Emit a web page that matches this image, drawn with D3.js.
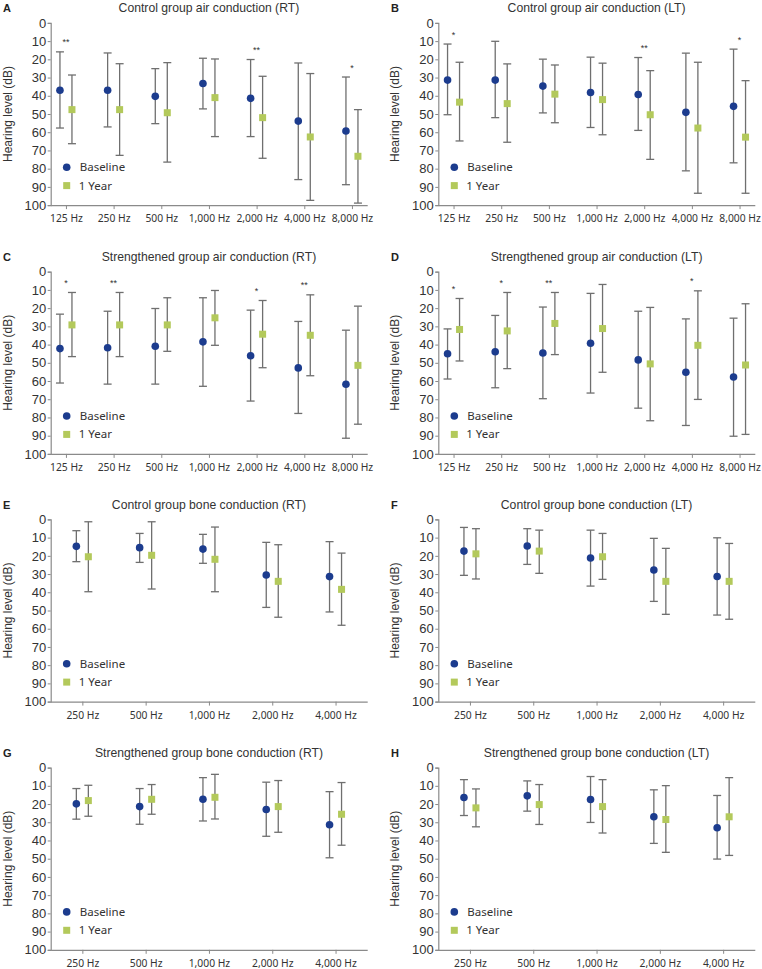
<!DOCTYPE html>
<html>
<head>
<meta charset="utf-8">
<script src="https://cdn.jsdelivr.net/npm/d3@7"></script>
<style>
  html, body { margin: 0; padding: 0; background: #fff; }
  svg { display: block; }
</style>
</head>
<body>
<div id="chart"></div>
<script>
// ---------- DATA ----------
const airFreqs = ["125 Hz", "250 Hz", "500 Hz", "1,000 Hz", "2,000 Hz", "4,000 Hz", "8,000 Hz"];
const boneFreqs = ["250 Hz", "500 Hz", "1,000 Hz", "2,000 Hz", "4,000 Hz"];
const yTickValues = [0, 10, 20, 30, 40, 50, 60, 70, 80, 90, 100];
const seriesNames = ["Baseline", "1 Year"];

// A: Control group air conduction (RT)
const A_baseMean = [37.0, 37.0, 40.3, 33.3, 41.4, 53.9, 59.3];
const A_baseTop  = [15.9, 16.5, 25.1, 19.4, 20.1, 22.0, 29.7];
const A_baseBot  = [57.7, 57.1, 55.3, 47.2, 62.4, 86.0, 88.8];
const A_yearMean = [47.6, 47.6, 49.3, 41.0, 52.0, 62.6, 73.2];
const A_yearTop  = [28.6, 22.4, 21.8, 19.8, 29.3, 27.8, 47.6];
const A_yearBot  = [66.3, 72.7, 76.4, 62.4, 74.3, 97.4, 98.9];
const A_stars    = ["**", "", "", "", "**", "", "*"];

// B: Control group air conduction (LT)
const B_baseMean = [31.4, 31.4, 34.7, 38.2, 39.3, 49.1, 45.8];
const B_baseTop  = [11.6, 10.1, 19.9, 18.8, 19.0, 16.6, 14.4];
const B_baseBot  = [50.4, 52.0, 49.4, 57.4, 59.0, 81.2, 76.8];
const B_yearMean = [43.5, 44.3, 39.1, 42.1, 50.4, 57.7, 62.7];
const B_yearTop  = [21.6, 22.5, 23.1, 22.1, 26.2, 21.6, 31.7];
const B_yearBot  = [64.8, 65.5, 54.8, 61.4, 74.9, 93.5, 93.5];
const B_stars    = ["*", "", "", "", "**", "", "*"];

// C: Strengthened group air conduction (RT)
const C_baseMean = [42.2, 41.7, 40.9, 38.5, 46.1, 52.8, 61.8];
const C_baseTop  = [23.3, 21.7, 20.2, 14.3, 21.1, 27.3, 32.1];
const C_baseBot  = [61.1, 61.7, 61.7, 62.9, 71.0, 77.8, 91.4];
const C_yearMean = [29.2, 29.2, 29.2, 25.3, 34.3, 34.9, 51.4];
const C_yearTop  = [11.4, 11.4, 14.3, 10.3, 15.8, 12.7, 18.9];
const C_yearBot  = [46.6, 46.6, 43.7, 40.4, 52.7, 57.1, 83.7];
const C_stars    = ["*", "**", "", "", "*", "**", ""];

// D: Strengthened group air conduction (LT)
const D_baseMean = [45.0, 43.9, 44.6, 39.3, 48.4, 55.2, 57.8];
const D_baseTop  = [31.4, 24.0, 19.4, 11.9, 21.7, 25.9, 25.5];
const D_baseBot  = [58.9, 63.7, 69.7, 66.6, 74.9, 84.4, 90.3];
const D_yearMean = [31.7, 32.5, 28.4, 31.2, 50.6, 40.4, 51.2];
const D_yearTop  = [14.7, 11.4, 11.4, 7.0, 19.6, 10.5, 17.6];
const D_yearBot  = [49.0, 53.2, 45.5, 55.2, 81.8, 70.1, 89.3];
const D_stars    = ["*", "*", "**", "", "", "*", ""];

// E: Control group bone conduction (RT)
const E_baseMean = [14.8, 15.5, 16.3, 30.5, 31.4];
const E_baseTop  = [6.2, 7.7, 8.2, 12.6, 12.2];
const E_baseBot  = [23.2, 23.6, 24.1, 48.3, 50.8];
const E_yearMean = [20.5, 19.7, 21.9, 34.0, 38.4];
const E_yearTop  = [1.3, 1.3, 4.2, 13.9, 18.5];
const E_yearBot  = [39.7, 38.2, 39.7, 53.7, 58.1];

// F: Control group bone conduction (LT)
const F_baseMean = [17.4, 14.6, 21.2, 27.8, 31.3];
const F_baseTop  = [4.4, 5.1, 5.9, 10.4, 10.1];
const F_baseBot  = [30.7, 24.7, 36.6, 45.0, 52.5];
const F_yearMean = [18.9, 17.4, 20.5, 34.0, 34.0];
const F_yearTop  = [5.1, 5.9, 7.7, 15.9, 13.2];
const F_yearBot  = [32.7, 29.6, 32.9, 52.1, 54.8];

// G: Strengthened group bone conduction (RT)
const G_baseMean = [19.9, 21.4, 17.4, 23.0, 31.4];
const G_baseTop  = [11.5, 11.5, 5.5, 8.0, 13.2];
const G_baseBot  = [28.3, 31.1, 29.3, 37.7, 49.5];
const G_yearMean = [18.1, 17.4, 16.3, 21.4, 25.6];
const G_yearTop  = [9.7, 9.3, 3.7, 7.1, 8.2];
const G_yearBot  = [26.7, 25.6, 28.2, 35.5, 42.6];

// H: Strengthened group bone conduction (LT)
const H_baseMean = [16.4, 15.5, 17.5, 27.0, 33.0];
const H_baseTop  = [6.6, 7.3, 4.9, 12.2, 15.3];
const H_baseBot  = [26.3, 23.9, 30.1, 41.6, 50.2];
const H_yearMean = [22.1, 20.3, 21.4, 28.5, 27.0];
const H_yearTop  = [11.7, 9.3, 6.6, 9.9, 5.5];
const H_yearBot  = [32.5, 31.2, 35.9, 46.5, 48.2];

const panels = [
  { letter: "A", title: "Control group air conduction (RT)", cats: airFreqs, col: 0, row: 0,
    base: [A_baseMean, A_baseTop, A_baseBot], year: [A_yearMean, A_yearTop, A_yearBot], stars: A_stars },
  { letter: "B", title: "Control group air conduction (LT)", cats: airFreqs, col: 1, row: 0,
    base: [B_baseMean, B_baseTop, B_baseBot], year: [B_yearMean, B_yearTop, B_yearBot], stars: B_stars },
  { letter: "C", title: "Strengthened group air conduction (RT)", cats: airFreqs, col: 0, row: 1,
    base: [C_baseMean, C_baseTop, C_baseBot], year: [C_yearMean, C_yearTop, C_yearBot], stars: C_stars },
  { letter: "D", title: "Strengthened group air conduction (LT)", cats: airFreqs, col: 1, row: 1,
    base: [D_baseMean, D_baseTop, D_baseBot], year: [D_yearMean, D_yearTop, D_yearBot], stars: D_stars },
  { letter: "E", title: "Control group bone conduction (RT)", cats: boneFreqs, col: 0, row: 2,
    base: [E_baseMean, E_baseTop, E_baseBot], year: [E_yearMean, E_yearTop, E_yearBot], stars: null },
  { letter: "F", title: "Control group bone conduction (LT)", cats: boneFreqs, col: 1, row: 2,
    base: [F_baseMean, F_baseTop, F_baseBot], year: [F_yearMean, F_yearTop, F_yearBot], stars: null },
  { letter: "G", title: "Strengthened group bone conduction (RT)", cats: boneFreqs, col: 0, row: 3,
    base: [G_baseMean, G_baseTop, G_baseBot], year: [G_yearMean, G_yearTop, G_yearBot], stars: null },
  { letter: "H", title: "Strengthened group bone conduction (LT)", cats: boneFreqs, col: 1, row: 3,
    base: [H_baseMean, H_baseTop, H_baseBot], year: [H_yearMean, H_yearTop, H_yearBot], stars: null }
];

// ---------- LAYOUT ----------
const W = 762, H = 969;
const colX = [50.7, 438.3];
const letterX = [3, 391];
const rowY = [22.9, 271.7, 519.4, 767.6];
const plotW = 316.5, plotH = 182.2;
const baseColor = "#1c3c8e";
const yearColor = "#b3c95b";
const barColor = "#6f6f6f";
const axisColor = "#8a8a8a";
const textColor = "#333333";
const sansA = "Liberation Sans, Arial, sans-serif";
const sansN = "Noto Sans, sans-serif";

const svg = d3.select("#chart").append("svg").attr("width", W).attr("height", H);

panels.forEach(p => {
  const x0 = colX[p.col], y0 = rowY[p.row];
  const g = svg.append("g").attr("transform", `translate(${x0},${y0})`);
  const y = d3.scaleLinear().domain([0, 100]).range([0, plotH]);
  const x = d3.scalePoint().domain(p.cats).range([0, plotW])
    .padding(p.cats.length === 7 ? 0.32 : 0.5);

  // title + letter
  g.append("text").attr("x", plotW / 2).attr("y", -10.8)
    .attr("text-anchor", "middle").attr("font-family", sansA)
    .attr("font-size", 12.2).attr("fill", textColor).text(p.title);
  g.append("text").attr("x", letterX[p.col] - x0).attr("y", -10.8)
    .attr("font-family", sansA).attr("font-weight", "bold")
    .attr("font-size", 11).attr("fill", "#222").text(p.letter);

  // y axis
  const yAxis = d3.axisLeft(y).tickValues(yTickValues).tickSize(3).tickPadding(1.5).tickFormat(d3.format("d"));
  const ya = g.append("g").call(yAxis);
  ya.select(".domain").attr("stroke", axisColor).attr("stroke-width", 1.2);
  ya.selectAll(".tick line").attr("stroke", axisColor);
  ya.selectAll("text").attr("font-family", sansA)
    .attr("font-size", 13).attr("fill", textColor);

  // x axis
  const xAxis = d3.axisBottom(x).tickSize(4).tickPadding(6).tickSizeOuter(0);
  const xa = g.append("g").attr("transform", `translate(0,${plotH})`).call(xAxis);
  xa.select(".domain").attr("stroke", axisColor).attr("stroke-width", 1.2);
  xa.selectAll(".tick line").attr("stroke", axisColor);
  xa.selectAll("text").attr("font-family", sansN)
    .attr("font-size", 10.3).attr("fill", textColor);

  // y axis label
  g.append("text").attr("transform", `translate(${-39},${plotH / 2}) rotate(-90)`)
    .attr("text-anchor", "middle").attr("font-family", sansA)
    .attr("font-size", 12).attr("fill", textColor).text("Hearing level (dB)");

  const series = [
    { name: seriesNames[0], vals: p.base, dx: -6, color: baseColor, shape: "circle" },
    { name: seriesNames[1], vals: p.year, dx: 6, color: yearColor, shape: "square" }
  ];

  series.forEach(s => {
    const [mean, top, bot] = s.vals;
    const data = p.cats.map((c, i) => ({ c, m: mean[i], t: top[i], b: bot[i] }));
    const eg = g.append("g");
    eg.selectAll("line.v").data(data).enter().append("line")
      .attr("x1", d => x(d.c) + s.dx).attr("x2", d => x(d.c) + s.dx)
      .attr("y1", d => y(d.t)).attr("y2", d => y(d.b))
      .attr("stroke", barColor).attr("stroke-width", 1.3);
    ["t", "b"].forEach(k => {
      eg.selectAll("line.c" + k).data(data).enter().append("line")
        .attr("x1", d => x(d.c) + s.dx - 4).attr("x2", d => x(d.c) + s.dx + 4)
        .attr("y1", d => y(d[k])).attr("y2", d => y(d[k]))
        .attr("stroke", barColor).attr("stroke-width", 1.3);
    });
    if (s.shape === "circle") {
      eg.selectAll("circle").data(data).enter().append("circle")
        .attr("cx", d => x(d.c) + s.dx).attr("cy", d => y(d.m)).attr("r", 3.8)
        .attr("fill", s.color);
    } else {
      eg.selectAll("rect").data(data).enter().append("rect")
        .attr("x", d => x(d.c) + s.dx - 3.5).attr("y", d => y(d.m) - 3.5)
        .attr("width", 7).attr("height", 7).attr("fill", s.color);
    }
  });

  // significance stars
  if (p.stars) {
    const sd = p.cats.map((c, i) => ({ c, s: p.stars[i], top: Math.min(p.base[1][i], p.year[1][i]) }))
      .filter(d => d.s);
    g.selectAll("text.star").data(sd).enter().append("text")
      .attr("x", d => x(d.c)).attr("y", d => y(d.top) - 6.5)
      .attr("text-anchor", "middle").attr("font-family", sansA)
      .attr("font-size", 9).attr("fill", "#333").text(d => d.s);
  }

  // legend
  const lg = g.append("g");
  lg.append("circle").attr("cx", 16).attr("cy", y(79.2)).attr("r", 3.8).attr("fill", baseColor);
  lg.append("text").attr("x", 29).attr("y", y(79.2) + 4).attr("font-family", sansN)
    .attr("font-size", 11.5).attr("fill", textColor).text(seriesNames[0]);
  lg.append("rect").attr("x", 12.5).attr("y", y(89.3) - 3.5).attr("width", 7).attr("height", 7).attr("fill", yearColor);
  lg.append("text").attr("x", 28).attr("y", y(89.3) + 4).attr("font-family", sansN)
    .attr("font-size", 11.5).attr("fill", textColor).text(seriesNames[1]);
});
</script>
</body>
</html>
